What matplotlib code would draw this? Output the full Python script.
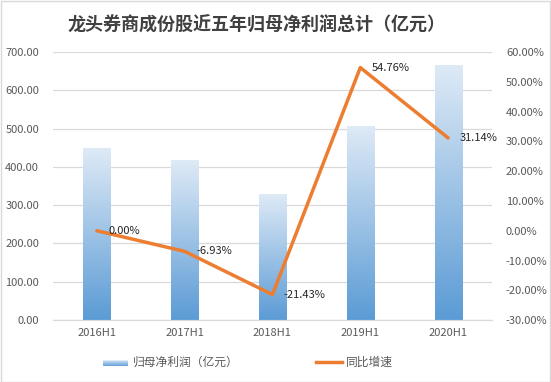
import numpy as np
import matplotlib
matplotlib.use("Agg")
import matplotlib.pyplot as plt
from matplotlib.colors import LinearSegmentedColormap
from matplotlib.patches import Patch, Rectangle
from matplotlib.lines import Line2D
from matplotlib.legend_handler import HandlerBase
from matplotlib.ticker import FuncFormatter, MultipleLocator

plt.rcParams['font.family'] = ['Noto Sans CJK SC', 'DejaVu Sans']

# data
periods = ["2016H1", "2017H1", "2018H1", "2019H1", "2020H1"]
net_profit = [448, 416, 328, 506, 664]          # 亿元
yoy_growth = [0.00, -6.93, -21.43, 54.76, 31.14]  # %

title_txt = "龙头券商成份股近五年归母净利润总计（亿元）"
bar_label = "归母净利润（亿元）"
line_label = "同比增速"

tick_color = "#595959"
grid_color = "#d9d9d9"
orange = "#ED7D31"
grad = LinearSegmentedColormap.from_list("g", ["#5b9bd5", "#deeaf6"])


class GradHandler(HandlerBase):
    # legend key drawn as a few stacked strips so it looks like the bars
    def create_artists(self, legend, orig, xd, yd, width, height, fontsize, trans):
        n = 8
        out = []
        for i in range(n):
            r = Rectangle((xd, yd + i * height / n), width, height / n,
                          facecolor=grad(i / (n - 1)), edgecolor="none", transform=trans)
            out.append(r)
        return out


fig = plt.figure(figsize=(5.51, 3.82), dpi=100)
ax = fig.add_axes([0.096, 0.162, 0.797, 0.702])
ax2 = ax.twinx()

x = np.arange(len(periods))
w = 0.31
bars = ax.bar(x, net_profit, width=w, color="none", edgecolor="none", zorder=2)
g = np.linspace(0, 1, 256).reshape(-1, 1)
for b in bars:
    x0, y0 = b.get_x(), b.get_y()
    ax.imshow(g, cmap=grad, origin="lower", aspect="auto", zorder=2,
              extent=(x0, x0 + b.get_width(), y0, y0 + b.get_height()))

ax.set_xlim(-0.5, len(periods) - 0.5)
ax.set_ylim(0, 700)
ax.yaxis.set_major_locator(MultipleLocator(100))
ax.yaxis.set_major_formatter(FuncFormatter(lambda v, p: f"{v:.2f}"))
ax.set_xticks(x)
ax.set_xticklabels(periods)
ax.grid(axis="y", color=grid_color, lw=0.9, zorder=0)
ax.set_axisbelow(True)

ax2.plot(x, yoy_growth, color=orange, lw=2.5, zorder=3, solid_capstyle="round")
for xi, v in zip(x, yoy_growth):
    ax2.text(xi + 0.13, v, f"{v:.2f}%", fontsize=8, color="#262626",
             va="center", ha="left", zorder=4)
ax2.set_ylim(-30, 60)
ax2.yaxis.set_major_locator(MultipleLocator(10))
ax2.yaxis.set_major_formatter(FuncFormatter(lambda v, p: f"{v:.2f}%"))
for lab in ax2.get_yticklabels():
    lab.set_horizontalalignment("left")

for a in (ax, ax2):
    for s in ("top", "left", "right"):
        a.spines[s].set_visible(False)
    a.spines["bottom"].set_color(grid_color)
    a.tick_params(length=0, labelsize=8, colors=tick_color)
ax.tick_params(axis="y", pad=10)
ax.tick_params(axis="x", pad=6)
ax2.tick_params(axis="y", pad=10)

fig.text(0.465, 0.935, title_txt, ha="center", va="center", fontsize=13,
         fontweight="bold", color="#404040")

handles = [Patch(label=bar_label),
           Line2D([0], [0], color=orange, lw=2.5, label=line_label)]
fig.legend(handles=handles, loc="center", bbox_to_anchor=(0.45, 0.052), ncol=2,
           frameon=False, fontsize=8.5, labelcolor=tick_color, handlelength=2.2,
           columnspacing=6.5, handleheight=0.5, handletextpad=0.4,
           handler_map={Patch: GradHandler()})

fig.patches.append(Rectangle((0.001, 0.001), 0.997, 0.997, transform=fig.transFigure,
                             fill=False, edgecolor="#d9d9d9", lw=1))

fig.savefig("out.png", dpi=100)
